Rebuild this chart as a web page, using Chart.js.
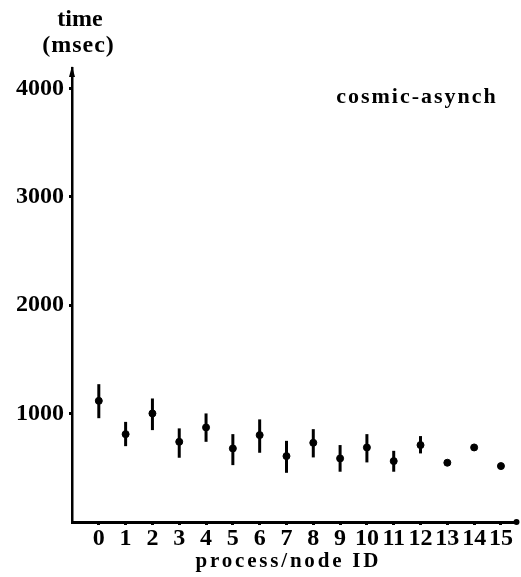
<!DOCTYPE html>
<html>
<head>
<meta charset="utf-8">
<script src="https://cdn.jsdelivr.net/npm/chart.js@4/dist/chart.umd.min.js"></script>
<style>
  html, body { margin: 0; padding: 0; background: #fff; }
  #wrap { width: 521px; height: 577px; }
</style>
</head>
<body>
<div id="wrap"><canvas id="timeChart"></canvas></div>
<script>
const nodeIds = [0, 1, 2, 3, 4, 5, 6, 7, 8, 9, 10, 11, 12, 13, 14, 15];
const meanTime = [1118, 811, 1002, 740, 873, 679, 802, 608, 731, 587, 688, 562, 710, 547, 688, 516];
const highTime = [1272, 924, 1140, 864, 1002, 811, 947, 749, 857, 710, 811, 657, 793, 565, 715, 516];
const lowTime  = [958, 700, 848, 593, 740, 525, 639, 454, 596, 464, 550, 464, 633, 530, 660, 516];
const yTickValues = [1000, 2000, 3000, 4000];
const seriesName = 'cosmic-asynch';
const xTitle = 'process/node ID';

const serif = '"Liberation Serif", "DejaVu Serif", serif';

// vertical bars for the spread of each node
const errorBars = {
  id: 'errorBars',
  afterDatasetsDraw(chart) {
    const { ctx, scales: { x, y } } = chart;
    ctx.save();
    ctx.strokeStyle = '#000';
    ctx.lineWidth = 3;
    nodeIds.forEach((id, i) => {
      if (highTime[i] === lowTime[i]) return;
      const px = x.getPixelForValue(id);
      ctx.beginPath();
      ctx.moveTo(px, y.getPixelForValue(highTime[i]));
      ctx.lineTo(px, y.getPixelForValue(lowTime[i]));
      ctx.stroke();
    });
    ctx.restore();
  }
};

function spacedText(ctx, text, x, y, spacing) {
  ctx.letterSpacing = spacing + 'px';
  // letter spacing also pads the last glyph, shift back half of it
  ctx.fillText(text, x + spacing / 2, y);
  ctx.letterSpacing = '0px';
}

// axis arrows, titles and the series label
const decorations = {
  id: 'decorations',
  afterDraw(chart) {
    const { ctx, chartArea } = chart;
    ctx.save();
    ctx.fillStyle = '#000';
    // arrow on top of the y axis
    ctx.beginPath();
    ctx.moveTo(chartArea.left, chartArea.top - 2);
    ctx.lineTo(chartArea.left - 3, chartArea.top + 9);
    ctx.lineTo(chartArea.left + 3, chartArea.top + 9);
    ctx.closePath();
    ctx.fill();
    // small head at the right of the x axis
    ctx.beginPath();
    ctx.arc(chartArea.right, chartArea.bottom, 3, 0, Math.PI * 2);
    ctx.fill();

    ctx.textAlign = 'center';
    ctx.textBaseline = 'middle';
    ctx.font = 'bold 24px ' + serif;
    spacedText(ctx, 'time', chartArea.left + 8, 20, 0);
    spacedText(ctx, '(msec)', chartArea.left + 6, 46, 1);

    ctx.font = 'bold 22px ' + serif;
    spacedText(ctx, seriesName, 416, 97, 2);

    ctx.font = 'bold 21px ' + serif;
    spacedText(ctx, xTitle, 287, 562, 2.8);
    ctx.restore();
  }
};

new Chart(document.getElementById('timeChart'), {
  type: 'scatter',
  data: {
    datasets: [{
      label: seriesName,
      data: nodeIds.map((id, i) => ({ x: id, y: meanTime[i] })),
      backgroundColor: '#000',
      borderColor: '#000',
      pointRadius: 3.5,
      pointHoverRadius: 3.5
    }]
  },
  options: {
    responsive: true,
    maintainAspectRatio: false,
    animation: false,
    layout: { padding: { top: 68, right: 3, left: 0, bottom: 0 } },
    plugins: {
      legend: { display: false },
      tooltip: { enabled: false }
    },
    scales: {
      x: {
        type: 'linear',
        min: -1,
        max: 15.58,
        afterBuildTicks: (scale) => { scale.ticks = nodeIds.map(v => ({ value: v })); },
        afterFit: (scale) => { scale.height = 55; },
        border: { color: '#000', width: 3 },
        grid: { drawOnChartArea: false, color: '#000', tickLength: 3, tickWidth: 3 },
        ticks: {
          color: '#000',
          autoSkip: false,
          maxRotation: 0,
          padding: -1,
          callback: (v) => String(v),
          font: { family: serif, size: 24, weight: 'bold' }
        }
      },
      y: {
        min: 0,
        max: 4190,
        afterBuildTicks: (scale) => { scale.ticks = yTickValues.map(v => ({ value: v })); },
        afterFit: (scale) => { scale.width = 72; },
        border: { color: '#000', width: 2.5 },
        grid: { drawOnChartArea: false, color: '#000', tickLength: 3, tickWidth: 3 },
        ticks: {
          color: '#000',
          padding: 5,
          callback: (v) => String(v),
          font: { family: serif, size: 24, weight: 'bold' }
        }
      }
    }
  },
  plugins: [errorBars, decorations]
});
</script>
</body>
</html>
